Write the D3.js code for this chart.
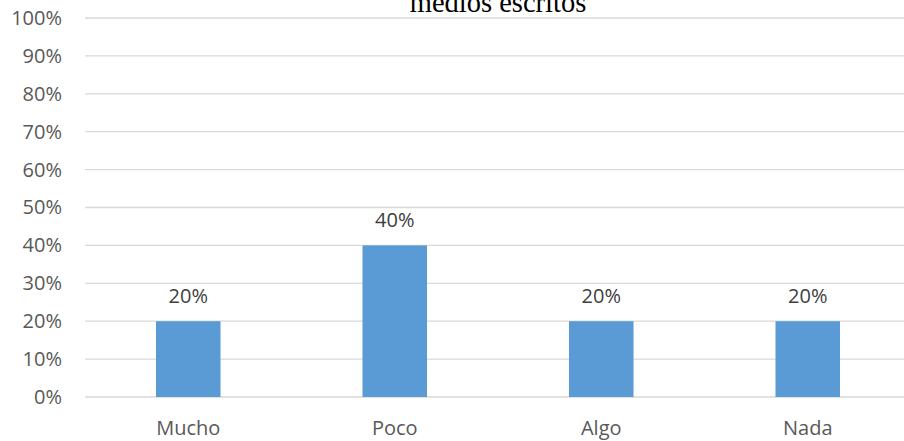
<!DOCTYPE html>
<html>
<head>
<meta charset="utf-8">
<script src="https://cdn.jsdelivr.net/npm/d3@7"></script>
<style>
  body { margin: 0; background: #fff; }
  text { font-family: "Open Sans", sans-serif; }
</style>
</head>
<body>
<div class="canvas"></div>
<script>
// chart data
const categories = ['Mucho', 'Poco', 'Algo', 'Nada'];
const values = [0.2, 0.4, 0.2, 0.2];
const yTicks = [0, 0.1, 0.2, 0.3, 0.4, 0.5, 0.6, 0.7, 0.8, 0.9, 1];
const titleText = 'medios escritos';

const width = 904;
const height = 441;
const margin = {top: 18, right: -7, bottom: 44, left: 85};
const graphWidth = width - margin.left - margin.right;
const graphHeight = height - margin.top - margin.bottom;

const svg = d3.select('.canvas')
	.append('svg')
	.attr('width', width)
	.attr('height', height);

const graph = svg.append('g')
	.attr('transform', `translate(${margin.left},${margin.top})`);

const x = d3.scaleBand()
	.domain(categories)
	.range([0, graphWidth])
	.paddingInner(0.6875)
	.paddingOuter(0.34375);

const y = d3.scaleLinear()
	.domain([0, 1])
	.range([graphHeight, 0]);

// gridlines
graph.append('g')
	.selectAll('line')
	.data(yTicks)
	.enter()
	.append('line')
	.attr('x1', 0)
	.attr('x2', graphWidth)
	.attr('y1', d => y(d))
	.attr('y2', d => y(d))
	.attr('stroke', '#d9d9d9')
	.attr('stroke-width', 1.3);

// y axis
const yAxis = d3.axisLeft(y)
	.tickValues(yTicks)
	.tickFormat(d3.format('.0%'))
	.tickSize(0)
	.tickPadding(23);

const yAxisGroup = graph.append('g').call(yAxis);
yAxisGroup.select('.domain').remove();
yAxisGroup.selectAll('text')
	.attr('fill', '#595959')
	.style('font-size', '20px')
	.style('font-family', '"Open Sans", sans-serif');

// x axis
const xAxis = d3.axisBottom(x)
	.tickSize(0)
	.tickPadding(24);

const xAxisGroup = graph.append('g')
	.attr('transform', `translate(0,${graphHeight})`)
	.call(xAxis);
xAxisGroup.select('.domain').remove();
xAxisGroup.selectAll('text')
	.attr('fill', '#595959')
	.style('font-size', '20px')
	.style('font-family', '"Open Sans", sans-serif');

// bars
const data = categories.map((c, i) => ({name: c, value: values[i]}));

graph.selectAll('rect')
	.data(data)
	.enter()
	.append('rect')
	.attr('x', d => x(d.name))
	.attr('y', d => y(d.value))
	.attr('width', x.bandwidth())
	.attr('height', d => graphHeight - y(d.value))
	.attr('fill', '#5b9bd5');

// data labels
graph.selectAll('.label')
	.data(data)
	.enter()
	.append('text')
	.attr('class', 'label')
	.attr('x', d => x(d.name) + x.bandwidth() / 2)
	.attr('y', d => y(d.value) - 18)
	.attr('text-anchor', 'middle')
	.attr('fill', '#404040')
	.style('font-size', '20px')
	.text(d => d3.format('.0%')(d.value));

// title (first line is cut off above the frame)
svg.append('text')
	.attr('x', margin.left + graphWidth / 2)
	.attr('y', 12)
	.attr('text-anchor', 'middle')
	.attr('fill', '#000')
	.style('font-family', '"Liberation Serif", "Times New Roman", serif')
	.style('font-size', '28.5px')
	.text(titleText);
</script>
</body>
</html>
